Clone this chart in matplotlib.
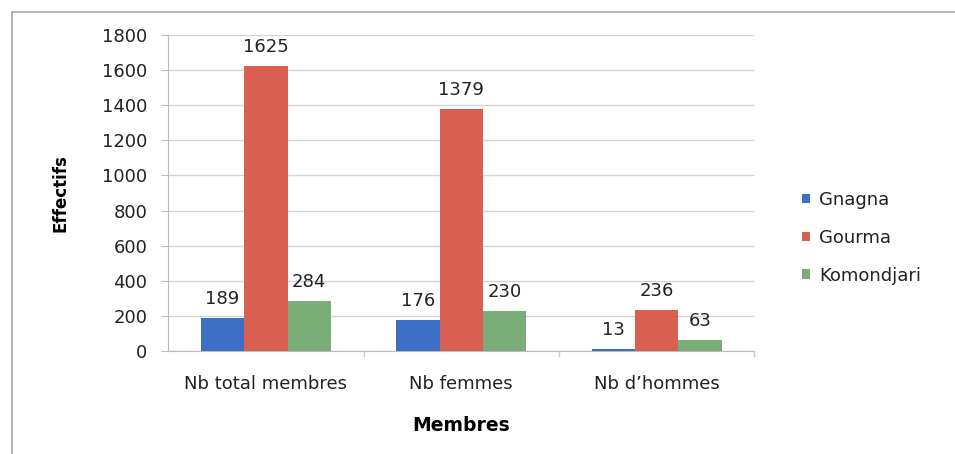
import numpy as np
import matplotlib.pyplot as plt
from matplotlib.lines import Line2D

# Donnees
categories = ["Nb total membres", "Nb femmes", "Nb d\u2019hommes"]
series = ["Gnagna", "Gourma", "Komondjari"]
gnagna = [189, 176, 13]
gourma = [1625, 1379, 236]
komondjari = [284, 230, 63]

couleurs = ["#3d6fc4", "#d95f50", "#7aad78"]

plt.rcParams['font.family'] = ['DejaVu Sans']
taille = 13

fig = plt.figure(figsize=(9.55, 4.54), dpi=100)
ax = fig.add_axes([0.176, 0.227, 0.614, 0.696])

x = np.arange(len(categories))
largeur = 1 / 4.5  # gap width 150%

for i, (nom, vals) in enumerate(zip(series, [gnagna, gourma, komondjari])):
    barres = ax.bar(x + (i - 1) * largeur, vals, width=largeur,
                    color=couleurs[i], label=nom, zorder=3)
    ax.bar_label(barres, padding=7, fontsize=taille, color='#222222')

ax.set_xlim(-0.5, 2.5)
ax.set_ylim(0, 1800)
ax.set_yticks(range(0, 1801, 200))
ax.set_xticks(x)
ax.set_xticklabels(categories, fontsize=taille, color='#222222')
ax.tick_params(axis='y', labelsize=taille, labelcolor='#222222', length=5,
               color='#bbbbbb', pad=10)
ax.tick_params(axis='x', length=0, pad=17.5)

# separateurs de categories sur l'axe x
for b in [0.5, 1.5, 2.5]:
    ax.plot([b, b], [0, -0.015], transform=ax.get_xaxis_transform(),
            color='#cccccc', lw=1, clip_on=False)

ax.grid(axis='y', color='#d4d4d4', lw=1, zorder=0)
for cote in ['top', 'right']:
    ax.spines[cote].set_visible(False)
ax.spines['left'].set_color('#bbbbbb')
ax.spines['bottom'].set_color('#bbbbbb')

ax.set_ylabel("Effectifs", fontsize=12, fontweight='bold')
ax.yaxis.set_label_coords(-0.168, 0.5)
ax.set_xlabel("Membres", fontsize=13.5, fontweight='bold')
ax.xaxis.set_label_coords(0.5, -0.205)

leg = fig.legend(loc='center left', bbox_to_anchor=(0.823, 0.476), frameon=False,
                 fontsize=taille, handlelength=0.45, handleheight=0.45,
                 handletextpad=0.5, labelspacing=1.1)
for t in leg.get_texts():
    t.set_color('#222222')

# cadre du graphique
fig.add_artist(Line2D([0.0126, 0.0126], [0, 0.974], color='#aaaaaa', lw=1.2))
fig.add_artist(Line2D([0.0126, 1.0], [0.974, 0.974], color='#aaaaaa', lw=1.2))

plt.savefig('out.png', dpi=100)
